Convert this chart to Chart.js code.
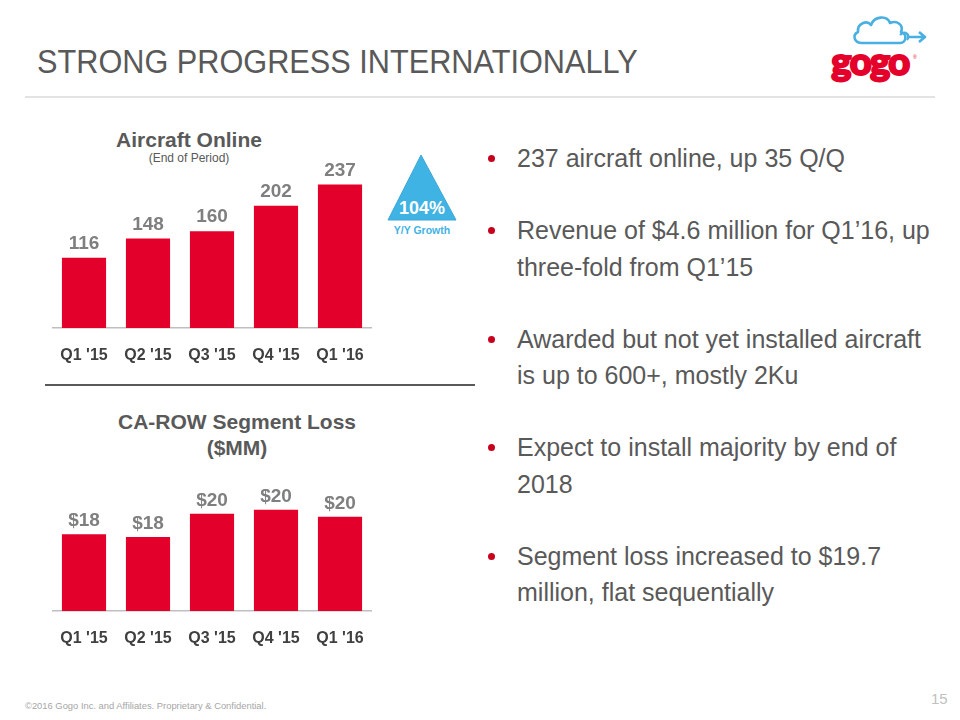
<!DOCTYPE html>
<html lang="en">

<head>
    <meta charset="UTF-8" />
    <title>Strong Progress Internationally</title>
    <script src="https://cdn.jsdelivr.net/npm/chart.js"></script>
    <style>
        body {
            margin: 0;
            width: 960px;
            height: 720px;
            position: relative;
            background: #ffffff;
            font-family: 'Liberation Sans Narrow', 'Arial Narrow', 'Liberation Sans', Arial, sans-serif;
            color: #595959;
            overflow: hidden;
        }

        .abs {
            position: absolute;
        }

        .slide-title {
            left: 37px;
            top: 40px;
            font-size: 33px;
            line-height: 44px;
            color: #595959;
            white-space: nowrap;
            transform: scaleX(0.93);
            transform-origin: left center;
        }

        .title-rule {
            left: 25px;
            top: 96px;
            width: 910px;
            height: 2px;
            background: #e3e3e3;
        }

        .chart-title {
            text-align: center;
            font-family: 'Liberation Sans', Arial, sans-serif;
            font-weight: bold;
            color: #595959;
            white-space: nowrap;
        }

        .chart-rule {
            left: 45px;
            top: 384px;
            width: 430px;
            height: 2px;
            background: #595959;
        }

        .bullets {
            left: 480px;
            top: 140px;
            margin: 0;
            padding: 0;
            list-style: none;
            font-size: 25px;
            line-height: 36.5px;
            color: #595959;
        }

        .bullets li {
            position: relative;
            padding-left: 37px;
            margin-bottom: 35.5px;
            white-space: nowrap;
        }

        .bullets li::before {
            content: '';
            position: absolute;
            left: 8px;
            top: 15px;
            width: 7px;
            height: 7px;
            border-radius: 50%;
            background: #c8001e;
        }

        .footer {
            left: 25px;
            top: 700px;
            font-size: 9.4px;
            color: #a6a6a6;
            font-family: 'Liberation Sans', Arial, sans-serif;
        }

        .page-no {
            left: 931px;
            top: 690px;
            font-size: 15px;
            color: #c0c0c0;
        }
    </style>
</head>

<body>
    <div class="abs slide-title">STRONG PROGRESS INTERNATIONALLY</div>
    <div class="abs title-rule"></div>

    <!-- logo -->
    <svg class="abs" style="left:815px;top:10px" width="135" height="80" viewBox="0 0 135 80">
        <path d="M47 33 C39 33 37 25 43 22 C42 13 52 10 56 15 C59 6 72 5 75 13 C82 10 89 15 86 22 C92 23 92 33 85 33 Z"
            fill="none" stroke="#4aafe1" stroke-width="2.6" stroke-linejoin="round" />
        <path d="M85 25 C90 20 96 25 92 30" fill="none" stroke="#4aafe1" stroke-width="2.4" />
        <path d="M92 27 L110 27 M104 22 L110 27 L104 32" fill="none" stroke="#4aafe1" stroke-width="2.6"
            stroke-linejoin="round" />
        <text x="55" y="65" text-anchor="middle" font-family="Lato, 'Liberation Sans', Arial" font-weight="900"
            font-size="38" fill="#e4002b" stroke="#e4002b" stroke-width="2" letter-spacing="-1.5">gogo</text>
        <text x="98" y="49" font-family="Arial" font-size="5" fill="#e4002b">®</text>
    </svg>

    <!-- top chart -->
    <div class="abs chart-title" style="left:69px;top:127px;width:240px;font-size:21px;line-height:26px">Aircraft Online</div>
    <div class="abs chart-title" style="left:89px;top:151px;width:200px;font-size:12px;line-height:15px;font-weight:normal">(End of Period)</div>
    <canvas id="aircraftChart" class="abs" style="left:52px;top:140px" width="320" height="226"></canvas>

    <!-- growth badge -->
    <svg class="abs" style="left:384px;top:150px" width="76" height="95" viewBox="0 0 76 95">
        <polygon points="37,5 4,70 72,70" fill="#3fb3e3" stroke="#3aa8d8" stroke-width="1" />
        <text x="38" y="64" text-anchor="middle" font-family="'Liberation Sans', Arial" font-weight="bold"
            font-size="18" fill="#ffffff">104%</text>
        <text x="38" y="84" text-anchor="middle" font-family="'Liberation Sans', Arial" font-weight="bold"
            font-size="10.5" fill="#3fb3e3">Y/Y Growth</text>
    </svg>

    <div class="abs chart-rule"></div>

    <!-- bottom chart -->
    <div class="abs chart-title" style="left:97px;top:409px;width:280px;font-size:21px;line-height:26px">CA-ROW Segment Loss<br>($MM)</div>
    <canvas id="lossChart" class="abs" style="left:52px;top:455px" width="320" height="194"></canvas>

    <ul class="abs bullets">
        <li>237 aircraft online, up 35 Q/Q</li>
        <li>Revenue of $4.6 million for Q1’16, up<br>three-fold from Q1’15</li>
        <li>Awarded but not yet installed aircraft<br>is up to 600+, mostly 2Ku</li>
        <li>Expect to install majority by end of<br>2018</li>
        <li>Segment loss increased to $19.7<br>million, flat sequentially</li>
    </ul>

    <div class="abs footer">©2016 Gogo Inc. and Affiliates. Proprietary &amp; Confidential.</div>
    <div class="abs page-no">15</div>
</body>
<script>
    quarters = ["Q1 '15", "Q2 '15", "Q3 '15", "Q4 '15", "Q1 '16"];
    aircraftOnline = [116, 148, 160, 202, 237];
    segmentLoss = [17.9, 17.6, 20.0, 20.4, 19.7];

    labelFont = "'Liberation Sans', Arial, sans-serif";
    barRed = '#e3002b';

    // draws the value above each bar
    valueLabels = {
        id: 'valueLabels',
        afterDatasetsDraw(chart, args, opts) {
            const ctx = chart.ctx;
            const meta = chart.getDatasetMeta(0);
            const values = chart.data.datasets[0].data;
            ctx.save();
            ctx.font = 'bold 19px ' + labelFont;
            ctx.fillStyle = '#7f7f7f';
            ctx.textAlign = 'center';
            ctx.textBaseline = 'middle';
            meta.data.forEach((bar, i) => {
                ctx.fillText(opts.format(values[i]), bar.x, bar.y - opts.offset);
            });
            ctx.restore();
        }
    };

    function xAxis() {
        return {
            grid: { display: false, drawTicks: false },
            border: { display: true, color: '#bfbfbf', width: 1.5 },
            ticks: {
                color: '#404040',
                padding: 18,
                font: { family: labelFont, size: 16, weight: 'bold' }
            },
            // keep the plot area the full canvas width, axis band fixed
            afterFit(scale) {
                scale.paddingLeft = 0;
                scale.paddingRight = 0;
                scale.paddingTop = 0;
                scale.paddingBottom = 0;
                scale.height = 38;
            }
        };
    }

    new Chart(document.getElementById('aircraftChart'), {
        type: 'bar',
        data: {
            labels: quarters,
            datasets: [{
                data: aircraftOnline,
                backgroundColor: barRed,
                barPercentage: 0.69,
                categoryPercentage: 1
            }]
        },
        options: {
            responsive: false,
            animation: false,
            devicePixelRatio: 1,
            layout: { padding: { top: 30, left: 0, right: 0, bottom: 0 } },
            scales: {
                x: xAxis(),
                y: { display: false, min: 0, max: 261 }
            },
            plugins: {
                legend: { display: false },
                tooltip: { enabled: false },
                valueLabels: { offset: 14, format: v => String(v) }
            }
        },
        plugins: [valueLabels]
    });

    new Chart(document.getElementById('lossChart'), {
        type: 'bar',
        data: {
            labels: quarters,
            datasets: [{
                data: segmentLoss,
                backgroundColor: barRed,
                barPercentage: 0.69,
                categoryPercentage: 1
            }]
        },
        options: {
            responsive: false,
            animation: false,
            devicePixelRatio: 1,
            layout: { padding: { top: 15, left: 0, right: 0, bottom: 0 } },
            scales: {
                x: xAxis(),
                y: { display: false, min: 10, max: 24.5 }
            },
            plugins: {
                legend: { display: false },
                tooltip: { enabled: false },
                valueLabels: { offset: 13, format: v => '$' + Math.round(v) }
            }
        },
        plugins: [valueLabels]
    });
</script>

</html>
